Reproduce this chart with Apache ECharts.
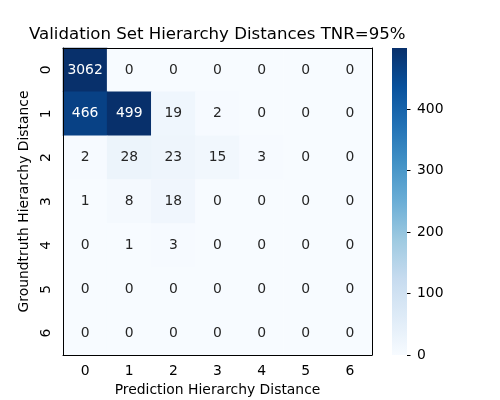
<!DOCTYPE html>
<html>
<head>
<meta charset="utf-8">
<script src="https://cdn.jsdelivr.net/npm/echarts@6/dist/echarts.min.js"></script>
<style>
  html, body { margin: 0; padding: 0; background: #fff; }
  #chart { width: 500px; height: 400px; }
</style>
</head>
<body>
<div id="chart"></div>
<script>
const predLabels = ['0', '1', '2', '3', '4', '5', '6']
const truthLabels = ['0', '1', '2', '3', '4', '5', '6']
// rows = groundtruth distance, columns = predicted distance
const counts = [
  [3062, 0, 0, 0, 0, 0, 0],
  [466, 499, 19, 2, 0, 0, 0],
  [2, 28, 23, 15, 3, 0, 0],
  [1, 8, 18, 0, 0, 0, 0],
  [0, 1, 3, 0, 0, 0, 0],
  [0, 0, 0, 0, 0, 0, 0],
  [0, 0, 0, 0, 0, 0, 0]
]
const colorMax = 499
const colorTicks = [0, 100, 200, 300, 400]
const blues = ['#f7fbff', '#deebf7', '#c6dbef', '#9ecae1', '#6baed6', '#4292c6', '#2171b5', '#08519c', '#08306b']

const font = 'DejaVu Sans'
const cells = []
counts.forEach((row, r) => {
  row.forEach((v, c) => {
    cells.push({
      value: [c, r, v],
      label: { color: v > colorMax * 0.5 ? '#ffffff' : '#262626' }
    })
  })
})

// colorbar gradient, top = max colour
const barStops = blues.map((col, i) => ({ offset: 1 - i / (blues.length - 1), color: col }))

const chart = echarts.init(document.getElementById('chart'))
chart.setOption({
  animation: false,
  title: {
    text: 'Validation Set Hierarchy Distances TNR=95%',
    left: 24,
    top: 21,
    textStyle: { fontFamily: font, fontSize: 16.6, fontWeight: 'normal', color: '#000' }
  },
  grid: [
    { left: 63, top: 48, width: 309, height: 307, outerBoundsMode: 'none', containLabel: false },
    { left: 392, top: 48, width: 15, height: 307, show: false, outerBoundsMode: 'none', containLabel: false }
  ],
  graphic: [
    {
      type: 'rect',
      left: 392,
      top: 48,
      shape: { width: 15, height: 307 },
      style: { fill: new echarts.graphic.LinearGradient(0, 0, 0, 1, barStops) },
      z: 0
    }
  ],
  xAxis: [
    {
      type: 'category',
      data: predLabels,
      gridIndex: 0,
      z: 5,
      name: 'Prediction Hierarchy Distance',
      nameLocation: 'middle',
      nameGap: 28,
      nameTextStyle: { fontFamily: font, fontSize: 13.9, color: '#000' },
      axisLine: { lineStyle: { color: '#000', width: 1 } },
      axisTick: { alignWithLabel: true, length: 3.5, lineStyle: { color: '#000' } },
      axisLabel: { fontFamily: font, fontSize: 13.9, color: '#000', margin: 9 },
      splitLine: { show: false }
    },
    {
      type: 'category',
      data: predLabels,
      gridIndex: 0,
      z: 5,
      position: 'top',
      axisLine: { lineStyle: { color: '#000', width: 1 } },
      axisTick: { show: false },
      axisLabel: { show: false }
    },
    {
      type: 'value',
      gridIndex: 1,
      show: false,
      min: 0,
      max: 1
    }
  ],
  yAxis: [
    {
      type: 'category',
      data: truthLabels,
      inverse: true,
      gridIndex: 0,
      z: 5,
      name: 'Groundtruth Hierarchy Distance',
      nameLocation: 'middle',
      nameGap: 29,
      nameTextStyle: { fontFamily: font, fontSize: 13.9, color: '#000' },
      axisLine: { lineStyle: { color: '#000', width: 1 } },
      axisTick: { alignWithLabel: true, length: 3.5, lineStyle: { color: '#000' } },
      axisLabel: { fontFamily: font, fontSize: 13.9, color: '#000', rotate: 90, margin: 10 },
      splitLine: { show: false }
    },
    {
      type: 'category',
      data: truthLabels,
      inverse: true,
      gridIndex: 0,
      z: 5,
      position: 'right',
      axisLine: { lineStyle: { color: '#000', width: 1 } },
      axisTick: { show: false },
      axisLabel: { show: false }
    },
    {
      type: 'value',
      gridIndex: 1,
      position: 'right',
      min: 0,
      max: colorMax,
      axisLine: { show: false, onZero: false },
      axisTick: { show: true, length: 3.5, customValues: colorTicks, lineStyle: { color: '#000', width: 1 } },
      axisLabel: { fontFamily: font, fontSize: 13.9, color: '#000', margin: 10, customValues: colorTicks },
      splitLine: { show: false }
    }
  ],
  visualMap: {
    type: 'continuous',
    show: false,
    min: 0,
    max: colorMax,
    seriesIndex: 0,
    inRange: { color: blues }
  },
  series: [
    {
      type: 'heatmap',
      xAxisIndex: 0,
      yAxisIndex: 0,
      data: cells,
      label: { show: true, fontFamily: font, fontSize: 13.9 },
      itemStyle: { borderWidth: 0 },
      z: 1
    }
  ]
})
</script>
</body>
</html>
